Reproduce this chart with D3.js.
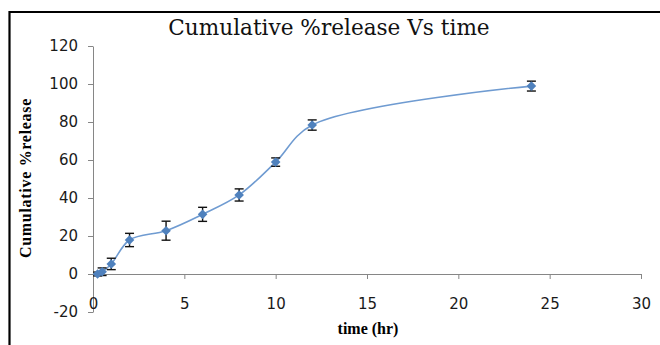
<!DOCTYPE html>
<html>
<head>
<meta charset="utf-8">
<script src="https://cdn.jsdelivr.net/npm/d3@7"></script>
<style>
  html, body { margin: 0; padding: 0; background: #fff; }
</style>
</head>
<body>
<script>
const width = 660;
const height = 345;

const lineColor = "#6F9BD1";
const markerColor = "#4F81BD";
const axisColor = "#868686";

// time points (hr) and mean cumulative % release, with error bar half-widths
const times = [0.25, 0.5, 1, 2, 4, 6, 8, 10, 12, 24];
const release = [0, 1.2, 5.3, 17.9, 22.8, 31.4, 41.6, 58.9, 78.4, 98.9];
const errors = [1, 2, 3, 3.5, 5, 3.7, 3.2, 2.2, 2.7, 2.6];

const xTicks = [0, 5, 10, 15, 20, 25, 30];
const yTicks = [-20, 0, 20, 40, 60, 80, 100, 120];

const dataset = times.map(function (t, i) {
  return {"time": t, "release": release[i], "err": errors[i]};
});

const svg = d3.select("body")
  .append("svg")
  .attr("width", width)
  .attr("height", height);

// frame (left and top edges only are visible)
svg.append("path")
  .attr("d", "M9.5,345V12H660")
  .attr("stroke", "#000")
  .attr("stroke-width", 2.2)
  .attr("fill", "none");

const x = d3.scaleLinear().domain([0, 30]).range([93, 641]);
const y = d3.scaleLinear().domain([-20, 120]).range([312, 46]);

const plainFormat = function (d) { return String(d); };

// y axis
const yAxis = svg.append("g")
  .attr("transform", "translate(" + x(0) + ",0)")
  .call(d3.axisLeft(y).tickValues(yTicks).tickFormat(plainFormat)
    .tickSize(5).tickSizeOuter(0).tickPadding(10));

// x axis at y = 0
const xAxis = svg.append("g")
  .attr("transform", "translate(0," + y(0) + ")")
  .call(d3.axisBottom(x).tickValues(xTicks).tickFormat(plainFormat)
    .tickSize(5).tickSizeOuter(0).tickPadding(19));

[xAxis, yAxis].forEach(function (g) {
  g.select(".domain").attr("stroke", axisColor);
  g.selectAll(".tick line").attr("stroke", axisColor);
  g.selectAll(".tick text")
    .attr("fill", "#1a1a1a")
    .style("font-family", "DejaVu Sans, Verdana, sans-serif")
    .style("font-size", "15px");
});

// smoothed line
const lineFunc = d3.line()
  .x(function (d) { return x(d.time); })
  .y(function (d) { return y(d.release); })
  .curve(d3.curveCatmullRom.alpha(0.5));

svg.append("path")
  .attr("d", lineFunc(dataset))
  .attr("stroke", lineColor)
  .attr("stroke-width", 1.6)
  .attr("fill", "none");

// error bars
const bars = svg.selectAll(".errbar")
  .data(dataset)
  .enter()
  .append("g")
  .attr("class", "errbar")
  .attr("stroke", "#111")
  .attr("stroke-width", 1.4);

bars.append("line")
  .attr("x1", function (d) { return x(d.time); })
  .attr("x2", function (d) { return x(d.time); })
  .attr("y1", function (d) { return y(d.release + d.err); })
  .attr("y2", function (d) { return y(d.release - d.err); });

bars.append("line")
  .attr("x1", function (d) { return x(d.time) - 4.5; })
  .attr("x2", function (d) { return x(d.time) + 4.5; })
  .attr("y1", function (d) { return y(d.release + d.err); })
  .attr("y2", function (d) { return y(d.release + d.err); });

bars.append("line")
  .attr("x1", function (d) { return x(d.time) - 4.5; })
  .attr("x2", function (d) { return x(d.time) + 4.5; })
  .attr("y1", function (d) { return y(d.release - d.err); })
  .attr("y2", function (d) { return y(d.release - d.err); });

// markers on top
svg.selectAll(".marker")
  .data(dataset)
  .enter()
  .append("path")
  .attr("class", "marker")
  .attr("d", d3.symbol().type(d3.symbolSquare).size(46))
  .attr("transform", function (d) {
    return "translate(" + x(d.time) + "," + y(d.release) + ") rotate(45)";
  })
  .attr("fill", markerColor);

// titles
svg.append("text")
  .text("Cumulative %release Vs time")
  .attr("x", 329)
  .attr("y", 35)
  .attr("text-anchor", "middle")
  .attr("fill", "#111")
  .style("font-family", "DejaVu Serif, serif")
  .style("font-size", "21.6px");

svg.append("text")
  .text("time (hr)")
  .attr("x", 368)
  .attr("y", 334)
  .attr("text-anchor", "middle")
  .attr("fill", "#000")
  .style("font-family", "Liberation Serif, serif")
  .style("font-weight", "bold")
  .style("font-size", "16px");

svg.append("text")
  .text("Cumulative %release")
  .attr("transform", "translate(31,178) rotate(-90)")
  .attr("text-anchor", "middle")
  .attr("fill", "#000")
  .style("font-family", "Liberation Serif, serif")
  .style("font-weight", "bold")
  .style("font-size", "16px")
  .style("letter-spacing", "0.7px");
</script>
</body>
</html>
